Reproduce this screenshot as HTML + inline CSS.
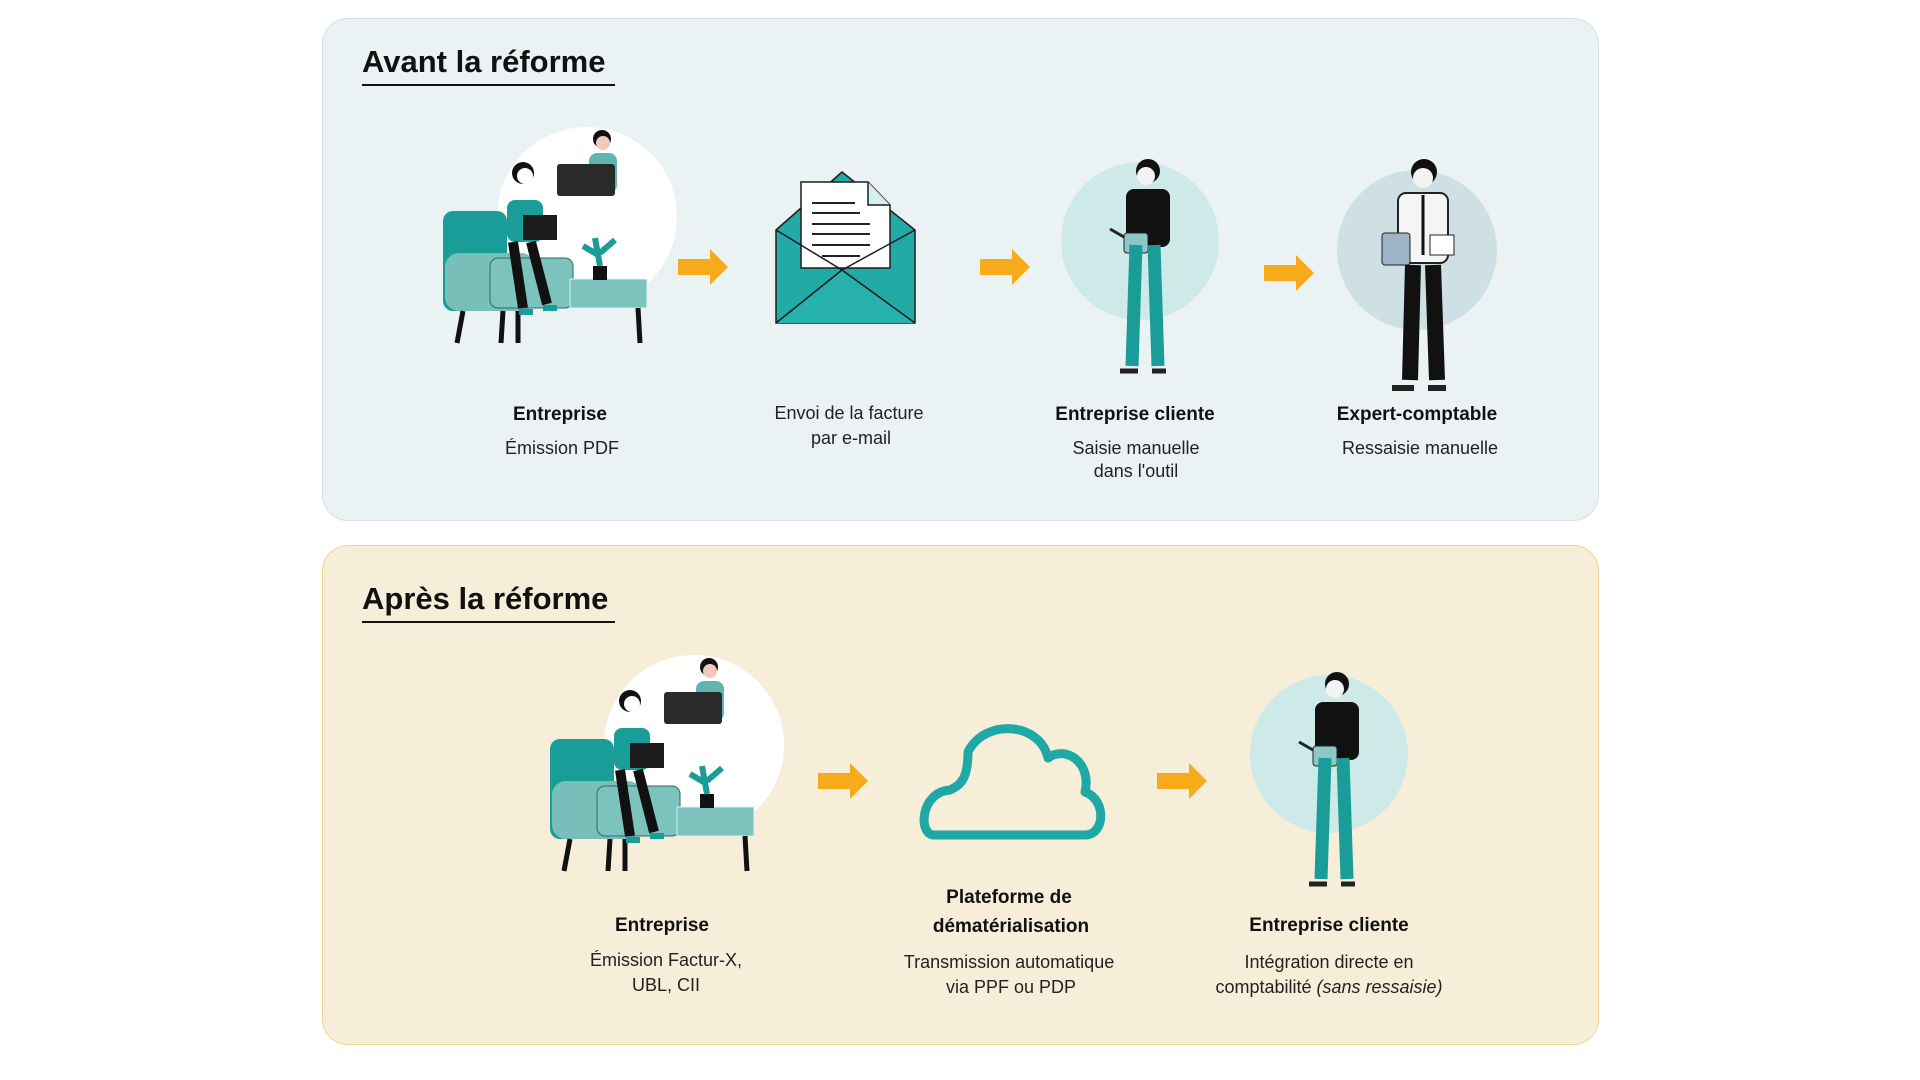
<!DOCTYPE html>
<html><head><meta charset="utf-8"><style>
body{margin:0;width:1920px;height:1080px;background:#fff;position:relative;overflow:hidden;font-family:"Liberation Sans",sans-serif;color:#111}
.panel{position:absolute;left:322px;width:1277px;border-radius:26px;box-sizing:border-box}
.t{position:absolute;text-align:center;white-space:nowrap;transform:translateX(-50%);font-size:18px;line-height:24px;color:#222}
.b{font-weight:bold;font-size:19px;color:#111}
.h{position:absolute;left:362px;font-size:31px;font-weight:bold;color:#111;border-bottom:2px solid #111;padding-bottom:4px;width:253px}
svg{position:absolute;left:0;top:0}
</style></head><body>
<div class="panel" style="top:18px;height:503px;background:#eaf2f3;border:1px solid #cfe4e3"></div>
<div class="panel" style="top:545px;height:500px;background:#f6eed9;border:1px solid #efd68a"></div>
<div class="h" style="top:44px">Avant la réforme</div>
<div class="h" style="top:581px">Après la réforme</div>

<svg width="1920" height="1080" viewBox="0 0 1920 1080">
<defs>
<g id="ent">
 <circle cx="144" cy="89" r="90" fill="#fff"/>
 <rect x="0" y="83" width="64" height="100" rx="10" fill="#1a9c98"/>
 <rect x="2" y="125" width="90" height="58" rx="14" fill="#78bfba"/>
 <rect x="47" y="130" width="83" height="50" rx="8" fill="#7cc3be" stroke="#2a6b68" stroke-width="1"/>
 <rect x="127" y="151" width="77" height="29" fill="#7cc3be" stroke="#e0f0ee" stroke-width="1"/>
 <path d="M20 183 L14 215 M60 183 L58 215 M75 183 L75 215 M195 180 L197 215" stroke="#111" stroke-width="5"/>
 <circle cx="80" cy="45" r="11" fill="#111"/><circle cx="82" cy="48" r="8" fill="#fff"/>
 <rect x="64" y="72" width="36" height="42" rx="8" fill="#1a9c98"/>
 <path d="M70 114 L80 180 M88 114 L104 176" stroke="#111" stroke-width="10"/>
 <path d="M76 184 h14 M100 180 h14" stroke="#1a9c98" stroke-width="6"/>
 <rect x="80" y="87" width="34" height="25" fill="#1b1b1b"/>
 <circle cx="159" cy="11" r="9" fill="#111"/><circle cx="160" cy="15" r="7" fill="#f0c8c0"/>
 <rect x="146" y="25" width="28" height="40" rx="8" fill="#5fb6b0"/>
 <rect x="114" y="36" width="58" height="32" rx="3" fill="#2a2a2a"/>
 <rect x="150" y="138" width="14" height="14" fill="#111"/>
 <path d="M157 138 L152 110 M157 125 L172 112 M157 128 L140 118" stroke="#1a9c98" stroke-width="6"/>
</g>
<g id="cli">
 <circle cx="0" cy="0" r="79" fill="#cde9e8"/>
 <circle cx="8" cy="-70" r="12" fill="#111"/><circle cx="6" cy="-65" r="9" fill="#f3f3f3"/>
 <rect x="-14" y="-52" width="44" height="58" rx="8" fill="#111"/>
 <rect x="-16" y="-8" width="24" height="20" rx="3" fill="#8cc8c6" stroke="#222"/>
 <path d="M-4 4 L-8 125 M14 4 L18 125" stroke="#1a9c98" stroke-width="13"/>
 <path d="M-20 130 h18 M12 130 h14" stroke="#222" stroke-width="5"/>
 <path d="M-16 -4 L-30 -12" stroke="#222" stroke-width="3"/>
</g>
<path id="arr" d="M0 -8 H32 V-18 L50 0 L32 18 V8 H0 Z" fill="#f7ab1b"/>
</defs>

<use href="#ent" x="443" y="128"/>
<use href="#ent" x="550" y="656"/>

<use href="#arr" x="678" y="267"/>
<use href="#arr" x="980" y="267"/>
<use href="#arr" x="1264" y="273"/>
<use href="#arr" x="818" y="781"/>
<use href="#arr" x="1157" y="781"/>

<g stroke="#1d1d1d" stroke-width="1.5">
 <path d="M776 230 L842 172 L915 230 V323 H776 Z" fill="#22aaa6"/>
 <path d="M801 182 H868 L890 205 V268 H801 Z" fill="#fff"/>
 <path d="M868 182 V205 H890" fill="#d5eeee"/>
 <path d="M776 323 L842 270 L915 323" fill="#27b1ac"/>
 <path d="M776 230 L842 270 L915 230" fill="none"/>
</g>
<g stroke="#222" stroke-width="2">
 <path d="M812 203 H855 M812 213 H860 M812 224 H870 M812 234 H870 M812 245 H870 M822 256 H860"/>
</g>

<use href="#cli" x="1140" y="241"/>
<use href="#cli" x="1329" y="754"/>

<circle cx="1417" cy="250" r="80" fill="#cfe0e4"/>
<circle cx="1424" cy="172" r="13" fill="#111"/><circle cx="1423" cy="178" r="10" fill="#f3f3f3"/>
<rect x="1398" y="193" width="50" height="70" rx="8" fill="#f5f5f5" stroke="#222" stroke-width="2"/>
<path d="M1423 195 V255" stroke="#111" stroke-width="3"/>
<rect x="1382" y="233" width="28" height="32" rx="3" fill="#9fb3c6" stroke="#222"/>
<rect x="1430" y="235" width="24" height="20" fill="#fff" stroke="#222"/>
<path d="M1413 265 L1410 380 M1433 265 L1437 380" stroke="#111" stroke-width="16"/>
<path d="M1392 388 h22 M1428 388 h18" stroke="#222" stroke-width="6"/>

<path d="M934 835 H1085 C1105 835 1107 800 1085 792 C1092 762 1065 745 1048 758 C1040 722 985 718 968 752 C968 780 960 785 950 790 C920 792 918 835 934 835 Z" fill="none" stroke="#1ea9a4" stroke-width="9" stroke-linejoin="round"/>
</svg>

<div class="t b" style="left:560px;top:403px">Entreprise</div>
<div class="t" style="left:562px;top:436px">Émission PDF</div>
<div class="t" style="left:849px;top:401px">Envoi de la facture</div>
<div class="t" style="left:851px;top:426px">par e-mail</div>
<div class="t b" style="left:1135px;top:403px">Entreprise cliente</div>
<div class="t" style="left:1136px;top:436px">Saisie manuelle</div>
<div class="t" style="left:1136px;top:459px">dans l'outil</div>
<div class="t b" style="left:1417px;top:403px">Expert-comptable</div>
<div class="t" style="left:1420px;top:436px">Ressaisie manuelle</div>

<div class="t b" style="left:662px;top:914px">Entreprise</div>
<div class="t" style="left:666px;top:948px">Émission Factur-X,</div>
<div class="t" style="left:666px;top:973px">UBL, CII</div>
<div class="t b" style="left:1009px;top:886px">Plateforme de</div>
<div class="t b" style="left:1011px;top:915px">dématérialisation</div>
<div class="t" style="left:1009px;top:950px">Transmission automatique</div>
<div class="t" style="left:1011px;top:975px">via PPF ou PDP</div>
<div class="t b" style="left:1329px;top:914px">Entreprise cliente</div>
<div class="t" style="left:1329px;top:950px">Intégration directe en</div>
<div class="t" style="left:1329px;top:975px">comptabilité <i>(sans ressaisie)</i></div>
</body></html>
